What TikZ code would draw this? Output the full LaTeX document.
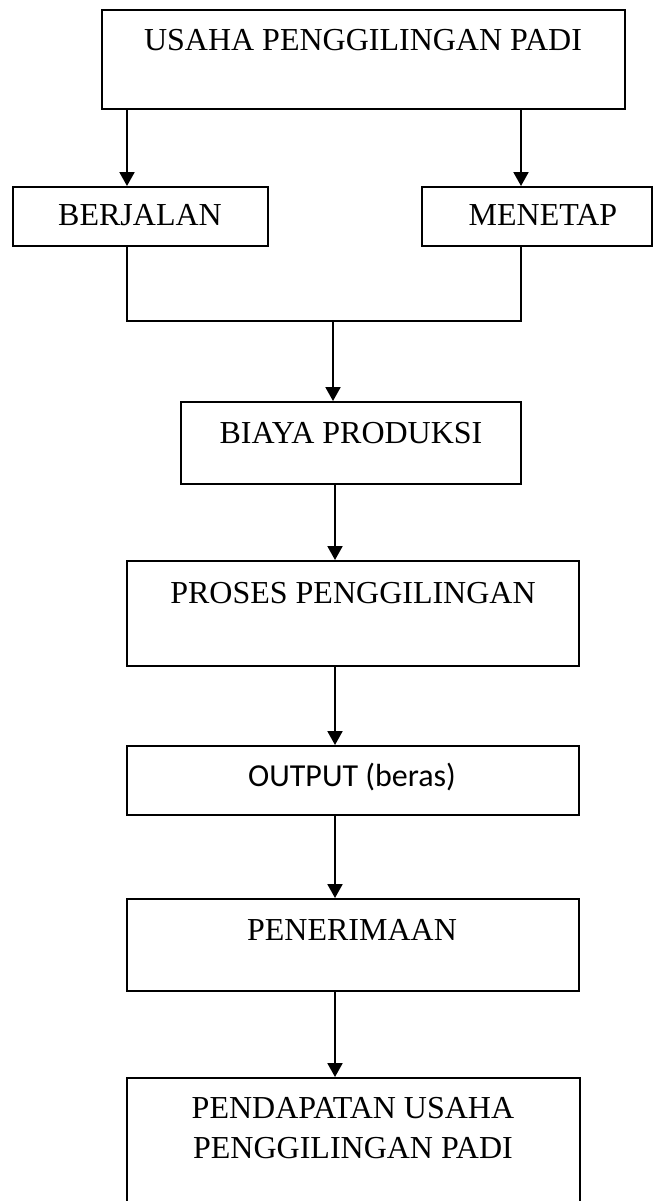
\documentclass[tikz,border=0pt]{standalone}
\usepackage{fontspec}
\setmainfont{Liberation Serif}
\newfontfamily\calibrifont{Carlito}
\usetikzlibrary{positioning, arrows.meta, fit}

\tikzset{
    box/.style={draw=black, line width=0.75pt, inner sep=0pt},
    txt/.style={inner sep=0pt, anchor=base, font=\fontsize{12pt}{14pt}\selectfont},
    link/.style={draw=black, line width=0.75pt},
    arr/.style={link, -{Triangle[length=5.2pt, width=5.6pt]}}
}

\begin{document}
\begin{tikzpicture}[x=0.375pt, y=-0.375pt]
        % page frame
        \useasboundingbox (0,0) rectangle (654,1201);

        % boxes
        \node[box, fit={(102,10) (625,109)}] (usaha) {};
        \node[box, fit={(13,187) (268,246)}] (berjalan) {};
        \node[box, fit={(422,187) (652,246)}] (menetap) {};
        \node[box, fit={(181,402) (521,484)}] (biaya) {};
        \node[box, fit={(127,561) (579,666)}] (proses) {};
        \node[box, fit={(127,746) (579,815)}] (output) {};
        \node[box, fit={(127,899) (579,991)}] (terima) {};
        \node[box, fit={(127,1078) (580,1215)}] (pendapatan) {};

        % texts
        \node[txt] (usahaT) at (363,51) {USAHA PENGGILINGAN PADI};
        \node[txt] (berjalanT) at (140,226) {BERJALAN};
        \node[txt] (menetapT) at (543,226) {MENETAP};
        \node[txt] (biayaT) at (351,443) {BIAYA PRODUKSI};
        \node[txt] (prosesT) at (353,603) {PROSES PENGGILINGAN};
        \node[txt, font=\fontsize{12pt}{14pt}\calibrifont] (outputT) at (352,786) {OUTPUT (beras)};
        \node[txt] (terimaT) at (352,940) {PENERIMAAN};
        \node[txt] (pendapatanA) at (353,1118) {PENDAPATAN USAHA};
        \node[txt] (pendapatanB) at (353,1158) {PENGGILINGAN PADI};

        % guide coordinates for the connectors
        \coordinate (lx) at (127,0);
        \coordinate (rx) at (521,0);
        \coordinate (join) at (333,321);
        \coordinate (cx) at (335,0);

        % arrows
        \draw[arr] (usaha.south -| lx) -- (berjalan.north -| lx);
        \draw[arr] (usaha.south -| rx) -- (menetap.north -| rx);
        \draw[link] (berjalan.south -| lx) |- (join) -| (menetap.south -| rx);
        \draw[arr] (join) -- (biaya.north -| join);
        \foreach \a/\b in {biaya/proses, proses/output, output/terima, terima/pendapatan}
        {
            \draw[arr] (\a.south -| cx) -- (\b.north -| cx);
        }
\end{tikzpicture}
\end{document}
